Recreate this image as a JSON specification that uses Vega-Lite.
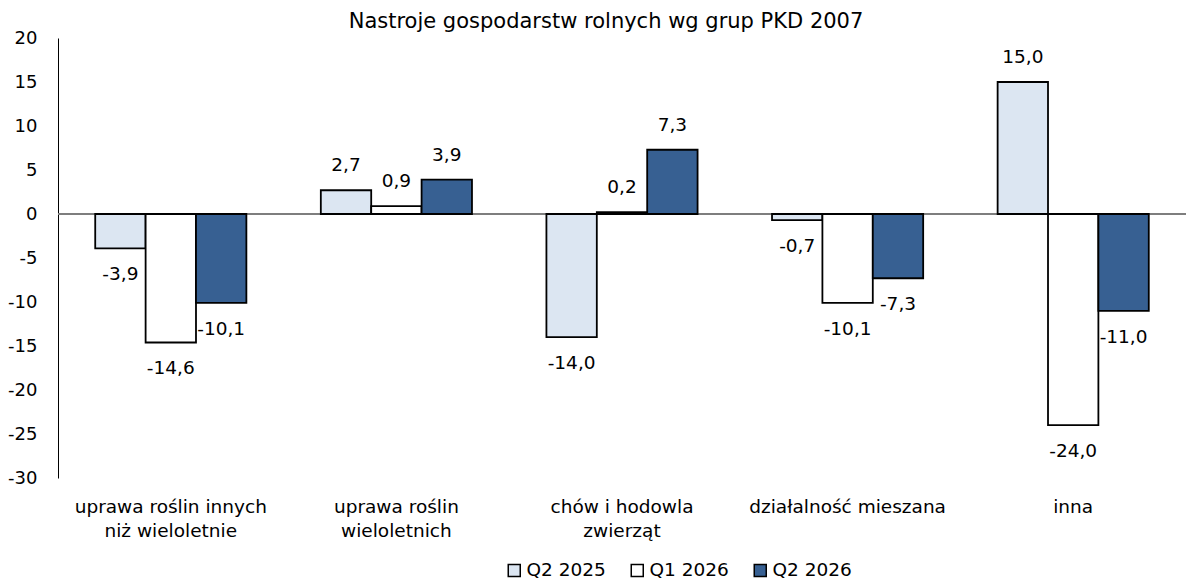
{
  "$schema": "https://vega.github.io/schema/vega-lite/v6.json",
  "width": 1128,
  "height": 440,
  "autosize": "none",
  "padding": {"left": 58, "top": 38, "right": 0, "bottom": 108},
  "background": "white",
  "config": {
    "font": "DejaVu Sans",
    "view": {"stroke": null}
  },
  "title": {
    "text": "Nastroje gospodarstw rolnych wg grup PKD 2007",
    "fontSize": 21,
    "fontWeight": "normal",
    "color": "black",
    "anchor": "middle",
    "dx": -16,
    "offset": -3
  },
  "data": {
    "values": [
      {"group": "uprawa roślin innych|niż wieloletnie", "series": "Q2 2025", "value": -3.9},
      {"group": "uprawa roślin innych|niż wieloletnie", "series": "Q1 2026", "value": -14.6},
      {"group": "uprawa roślin innych|niż wieloletnie", "series": "Q2 2026", "value": -10.1},
      {"group": "uprawa roślin|wieloletnich", "series": "Q2 2025", "value": 2.7},
      {"group": "uprawa roślin|wieloletnich", "series": "Q1 2026", "value": 0.9},
      {"group": "uprawa roślin|wieloletnich", "series": "Q2 2026", "value": 3.9},
      {"group": "chów i hodowla|zwierząt", "series": "Q2 2025", "value": -14.0},
      {"group": "chów i hodowla|zwierząt", "series": "Q1 2026", "value": 0.2},
      {"group": "chów i hodowla|zwierząt", "series": "Q2 2026", "value": 7.3},
      {"group": "działalność mieszana", "series": "Q2 2025", "value": -0.7},
      {"group": "działalność mieszana", "series": "Q1 2026", "value": -10.1},
      {"group": "działalność mieszana", "series": "Q2 2026", "value": -7.3},
      {"group": "inna", "series": "Q2 2025", "value": 15.0},
      {"group": "inna", "series": "Q1 2026", "value": -24.0},
      {"group": "inna", "series": "Q2 2026", "value": -11.0}
    ]
  },
  "transform": [
    {"calculate": "(datum.value < 0 ? '-' : '') + replace(format(abs(datum.value), '.1f'), '.', ',')", "as": "lbl"}
  ],
  "encoding": {
    "x": {
      "field": "group",
      "type": "nominal",
      "sort": null,
      "scale": {"paddingInner": 0.33, "paddingOuter": 0.165},
      "axis": {
        "title": null,
        "domain": false,
        "ticks": false,
        "labelAngle": 0,
        "labelFontSize": 18.5,
        "labelColor": "black",
        "labelPadding": 19,
        "labelLineHeight": 24,
        "labelLimit": 0,
        "labelExpr": "split(datum.label, '|')"
      }
    },
    "xOffset": {
      "field": "series",
      "type": "nominal",
      "sort": ["Q2 2025", "Q1 2026", "Q2 2026"],
      "scale": {"paddingInner": 0, "paddingOuter": 0}
    },
    "y": {
      "field": "value",
      "type": "quantitative",
      "scale": {"domain": [-30, 20], "nice": false, "zero": false},
      "axis": {
        "title": null,
        "values": [-30, -25, -20, -15, -10, -5, 0, 5, 10, 15, 20],
        "grid": false,
        "ticks": false,
        "domainColor": "black",
        "domainWidth": 1,
        "labelFontSize": 18,
        "labelColor": "black",
        "labelPadding": 21,
        "labelExpr": "'' + datum.value"
      }
    }
  },
  "layer": [
    {
      "mark": {"type": "rule", "color": "#7f7f7f", "strokeWidth": 1.2},
      "encoding": {
        "y": {"datum": 0},
        "x": null,
        "xOffset": null
      }
    },
    {
      "mark": {"type": "bar", "stroke": "black", "strokeWidth": 1.8},
      "encoding": {
        "color": {
          "field": "series",
          "type": "nominal",
          "scale": {"domain": ["Q2 2025", "Q1 2026", "Q2 2026"], "range": ["#dce6f2", "#ffffff", "#376092"]},
          "legend": {
            "title": null,
            "orient": "none",
            "direction": "horizontal",
            "legendX": 447,
            "legendY": 523,
            "symbolType": "square",
            "symbolSize": 144,
            "symbolStrokeColor": "black",
            "symbolStrokeWidth": 1.5,
            "symbolOpacity": 1,
            "labelFontSize": 18.5,
            "labelColor": "black",
            "labelOffset": 3,
            "columnPadding": 22
          }
        }
      }
    },
    {
      "transform": [{"filter": "datum.value >= 0"}],
      "mark": {"type": "text", "fontSize": 18.5, "color": "black", "baseline": "middle", "dy": -25},
      "encoding": {"text": {"field": "lbl"}}
    },
    {
      "transform": [{"filter": "datum.value < 0"}],
      "mark": {"type": "text", "fontSize": 18.5, "color": "black", "baseline": "middle", "dy": 26},
      "encoding": {"text": {"field": "lbl"}}
    }
  ]
}
